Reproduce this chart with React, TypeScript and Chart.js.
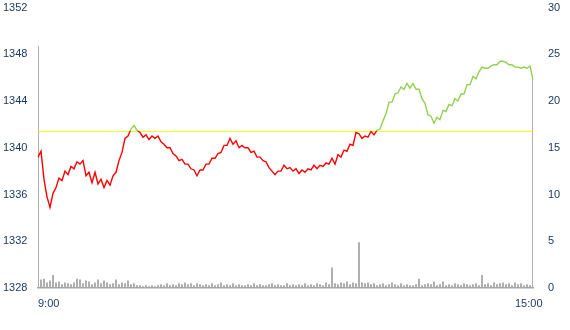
import React, { useEffect, useRef } from 'react';
import { Chart, registerables } from 'chart.js';

Chart.register(...registerables);

// Intraday price (one point per sampled interval, 9:00 -> 15:00)
const PRICE: number[] = [
  1339.2, 1339.7, 1337.3, 1335.8, 1334.9, 1336.1, 1336.6, 1337.4, 1337.2, 1338.0,
  1337.7, 1338.4, 1338.2, 1338.8, 1338.6, 1338.9, 1337.6, 1337.9, 1337.0, 1337.9,
  1336.9, 1337.3, 1336.6, 1337.2, 1336.8, 1337.6, 1337.9, 1338.9, 1339.6, 1340.8,
  1341.0, 1341.6, 1341.9, 1341.5, 1341.3, 1340.9, 1341.1, 1340.7, 1341.0, 1340.8,
  1341.0, 1340.5, 1340.3, 1340.0, 1340.0, 1339.5, 1339.3, 1338.9, 1339.0, 1338.6,
  1338.6, 1338.2, 1338.1, 1337.6, 1338.1, 1338.1, 1338.6, 1338.6, 1339.1, 1339.1,
  1339.5, 1339.6, 1340.2, 1340.2, 1340.8, 1340.3, 1340.6, 1340.0, 1340.2, 1340.0,
  1340.0, 1339.6, 1339.7, 1339.2, 1339.2, 1338.9, 1338.8, 1338.3, 1338.0, 1337.7,
  1338.0, 1338.0, 1338.5, 1338.2, 1338.3, 1338.0, 1338.2, 1337.8, 1338.1, 1337.9,
  1338.2, 1338.1, 1338.5, 1338.2, 1338.5, 1338.4, 1338.7, 1338.6, 1339.1, 1338.6,
  1339.4, 1339.2, 1339.8, 1339.7, 1340.3, 1340.2, 1341.3, 1341.2, 1340.8, 1341.0,
  1340.9, 1341.4, 1341.1, 1341.5, 1341.6, 1342.3, 1342.9, 1343.9, 1343.9, 1344.6,
  1344.7, 1345.2, 1345.0, 1345.5, 1345.1, 1345.5, 1345.0, 1345.0, 1344.2, 1343.8,
  1342.8, 1342.7, 1342.1, 1342.6, 1342.4, 1343.2, 1343.1, 1343.7, 1343.6, 1344.2,
  1344.0, 1344.6, 1344.6, 1345.4, 1345.4, 1346.1, 1345.9, 1346.5, 1346.9, 1346.8,
  1346.8, 1347.0, 1347.1, 1347.1, 1347.4, 1347.4, 1347.3, 1347.1, 1347.1, 1346.9,
  1346.9, 1346.8, 1346.9, 1346.8, 1347.0, 1345.8,
];

// Volume per interval (right axis)
const VOLUME: number[] = [
  25.9, 0.9, 1.0, 0.6, 0.8, 1.4, 0.6, 0.7, 0.4, 0.6,
  0.5, 0.4, 0.6, 1.0, 0.9, 0.5, 0.8, 0.7, 0.4, 0.6,
  0.9, 0.5, 0.8, 0.6, 0.4, 0.5, 0.9, 0.4, 0.6, 0.5,
  0.8, 0.4, 0.5, 0.3, 0.3, 0.2, 0.3, 0.2, 0.3, 0.2,
  0.3, 0.4, 0.3, 0.5, 0.3, 0.4, 0.3, 0.5, 0.4, 0.6,
  0.4, 0.5, 0.3, 0.5, 0.4, 0.3, 0.4, 0.3, 0.5, 0.3,
  0.4, 0.6, 0.3, 0.4, 0.3, 0.5, 0.3, 0.4, 0.3, 0.3,
  0.4, 0.3, 0.5, 0.3, 0.4, 0.3, 0.3, 0.4, 0.5, 0.3,
  0.4, 0.3, 0.3, 0.5, 0.3, 0.4, 0.3, 0.4, 0.3, 0.5,
  0.3, 0.4, 0.3, 0.5, 0.4, 0.3, 0.6, 0.4, 2.2, 0.5,
  0.4, 0.6, 0.5, 0.7, 0.4, 0.6, 0.5, 4.9, 0.6, 0.5,
  0.6, 0.4, 0.5, 0.3, 0.4, 0.5, 0.3, 0.4, 0.6, 0.4,
  0.3, 0.5, 0.3, 0.4, 0.3, 0.3, 0.4, 1.0, 0.3, 0.4,
  0.5, 0.4, 0.7, 0.3, 0.4, 0.7, 0.3, 0.4, 0.3, 0.5,
  0.4, 0.3, 0.5, 0.4, 0.3, 0.4, 0.5, 0.3, 1.4, 0.4,
  0.5, 0.3, 0.6, 0.4, 0.5, 0.6, 0.4, 0.5, 0.3, 0.6,
  0.4, 0.5, 0.3, 0.4, 0.3, 22.3,
];

const PREV_SETTLE = 1341.4;
const PRICE_MIN = 1328;
const PRICE_MAX = 1352;
const PRICE_STEP = 4;
const VOL_MIN = 0;
const VOL_MAX = 30;
const VOL_STEP = 5;
const TIME_TICK_INDEX: number[] = [0, 159];
const TIME_TICK_TEXT: string[] = ['9:00', '15:00'];

const UP_COLOR = '#92D050';
const DOWN_COLOR = '#FF0000';
const REF_COLOR = '#F5F500';
const VOL_COLOR = '#A6A6A6';
const TEXT_COLOR = '#17365D';
const FONT = { family: 'Liberation Sans', size: 11 };

export default function App() {
  const ref = useRef<HTMLCanvasElement>(null);

  useEffect(() => {
    if (!ref.current) return;
    const labels = PRICE.map((_, i) => i);
    const chart = new Chart(ref.current, {
      type: 'line',
      data: {
        labels,
        datasets: [
          {
            type: 'line',
            data: PRICE,
            yAxisID: 'y',
            borderWidth: 1.4,
            pointRadius: 0,
            tension: 0,
            order: 0,
            borderColor: (context: any) => {
              const c = context.chart;
              const area = c.chartArea;
              if (!area) return DOWN_COLOR;
              const yRef = c.scales.y.getPixelForValue(PREV_SETTLE);
              const g = c.ctx.createLinearGradient(0, area.top, 0, area.bottom);
              const t = Math.min(1, Math.max(0, (yRef - area.top) / (area.bottom - area.top)));
              g.addColorStop(0, UP_COLOR);
              g.addColorStop(t, UP_COLOR);
              g.addColorStop(t, DOWN_COLOR);
              g.addColorStop(1, DOWN_COLOR);
              return g;
            },
          },
          {
            type: 'line',
            data: labels.map(() => PREV_SETTLE),
            yAxisID: 'y',
            borderColor: REF_COLOR,
            borderWidth: 0.9,
            pointRadius: 0,
            order: 1,
          },
          {
            type: 'bar',
            data: VOLUME,
            yAxisID: 'y1',
            backgroundColor: VOL_COLOR,
            barPercentage: 0.6,
            categoryPercentage: 1,
            order: 2,
          },
        ],
      } as any,
      options: {
        animation: false,
        responsive: true,
        maintainAspectRatio: false,
        layout: { padding: { left: 3, top: 7.5, right: 0, bottom: 0 } },
        plugins: { legend: { display: false }, tooltip: { enabled: false } },
        scales: {
          x: {
            type: 'category',
            offset: false,
            grid: { display: false, drawTicks: false },
            border: { display: true, color: VOL_COLOR, width: 1.5 },
            ticks: {
              autoSkip: false,
              maxRotation: 0,
              minRotation: 0,
              align: 'start',
              padding: 9,
              color: TEXT_COLOR,
              font: FONT,
              callback: (_v: any, i: number) => {
                const k = TIME_TICK_INDEX.indexOf(i);
                return k >= 0 ? TIME_TICK_TEXT[k] : '';
              },
            },
            afterFit: (s: any) => { s.height = 42; s.paddingLeft = 0; s.paddingRight = 0; },
          },
          y: {
            position: 'left',
            min: PRICE_MIN,
            max: PRICE_MAX,
            grid: { display: false, drawTicks: false },
            border: { display: false },
            ticks: {
              stepSize: PRICE_STEP, crossAlign: 'far', color: TEXT_COLOR, font: FONT, padding: 3,
              callback: (v: any) => String(v),
            },
            afterFit: (s: any) => { s.width = 35; s.paddingTop = 0; s.paddingBottom = 0; },
          },
          y1: {
            position: 'right',
            min: VOL_MIN,
            max: VOL_MAX,
            grid: { display: false, drawTicks: false },
            border: { display: false },
            ticks: {
              stepSize: VOL_STEP, color: TEXT_COLOR, font: FONT, padding: 15,
              callback: (v: any) => String(v),
            },
            afterFit: (s: any) => { s.width = 37; s.paddingTop = 0; s.paddingBottom = 0; },
          },
        },
      } as any,
    });
    return () => chart.destroy();
  }, []);

  return (
    <div style={{ position: 'absolute', left: 0, top: 0, width: 570, height: 330, background: '#fff' }}>
      <canvas ref={ref} />
    </div>
  );
}
